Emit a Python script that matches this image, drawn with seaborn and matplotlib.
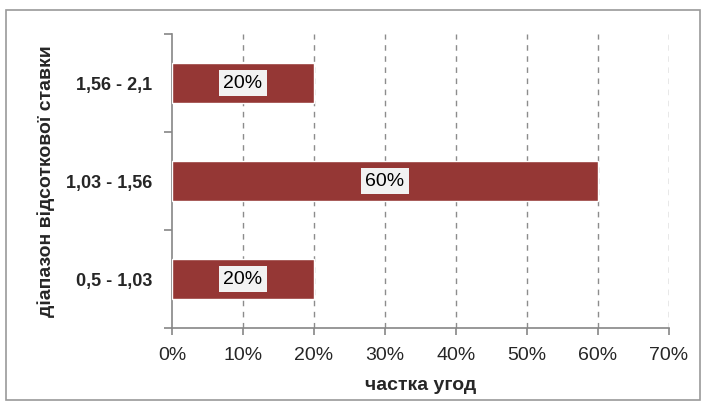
import matplotlib
matplotlib.use('Agg')
import matplotlib.pyplot as plt
import seaborn as sns
import pandas as pd
from matplotlib.patches import Rectangle
from matplotlib.ticker import FixedLocator

# data
ranges = ['1,56 - 2,1', '1,03 - 1,56', '0,5 - 1,03']
shares = [20, 60, 20]
x_ticks = [0, 10, 20, 30, 40, 50, 60, 70]

df = pd.DataFrame({'range': ranges, 'share': shares})

sns.set_style('white')
plt.rcParams['font.family'] = ['Liberation Sans', 'DejaVu Sans']

fig = plt.figure(figsize=(7.05, 4.08), dpi=100)
ax = fig.add_axes([172/705, 1 - 328/408, (669 - 172)/705, (328 - 34)/408])

# outer chart border
fig.patches.append(Rectangle((6/705, 1 - 400/408), 694/705, 390/408,
                             transform=fig.transFigure, fill=False,
                             edgecolor='#9a9a9a', linewidth=1.2))

sns.barplot(data=df, x='share', y='range', order=ranges, color='#953735',
            saturation=1, width=0.41, orient='h', ax=ax, zorder=3)

# bar value labels
for p, v in zip(ax.patches, shares):
    ax.text(p.get_x() + p.get_width() / 2, p.get_y() + p.get_height() / 2,
            f'{v}%', ha='center', va='center', fontsize=14, color='black', zorder=5,
            bbox=dict(facecolor='#f2f2f2', edgecolor='none', pad=3.5))

ax.set_xlim(0, 70)
ax.set_ylim(2.5, -0.5)
ax.set_xticks(x_ticks)
ax.set_xticklabels([f'{t}%' for t in x_ticks], fontsize=14)
ax.tick_params(axis='x', bottom=True, length=5, width=1.2, color='#868686', pad=9,
               direction='out')

# y ticks: labels at centers, tick marks at category boundaries
ax.tick_params(axis='y', which='major', left=True, length=0, pad=14)
ax.yaxis.set_minor_locator(FixedLocator([-0.5, 0.5, 1.5, 2.5]))
ax.tick_params(axis='y', which='minor', left=True, length=6, width=1.2,
               color='#868686', direction='out')
for lab in ax.get_yticklabels():
    lab.set_fontweight('bold')
    lab.set_fontsize(13)

ax.grid(False)
for t in x_ticks[1:]:
    ax.axvline(t, color='#8c8c8c', linestyle=(0, (4, 4)), linewidth=1, zorder=1)

for s in ['top', 'right']:
    ax.spines[s].set_visible(False)
for s in ['left', 'bottom']:
    ax.spines[s].set_color('#868686')
    ax.spines[s].set_linewidth(1.2)

ax.set_xlabel('частка угод', fontsize=14, fontweight='bold', labelpad=9)
ax.set_ylabel('діапазон відсоткової ставки', fontsize=14, fontweight='bold', labelpad=8)

fig.savefig('out.png', dpi=100)
